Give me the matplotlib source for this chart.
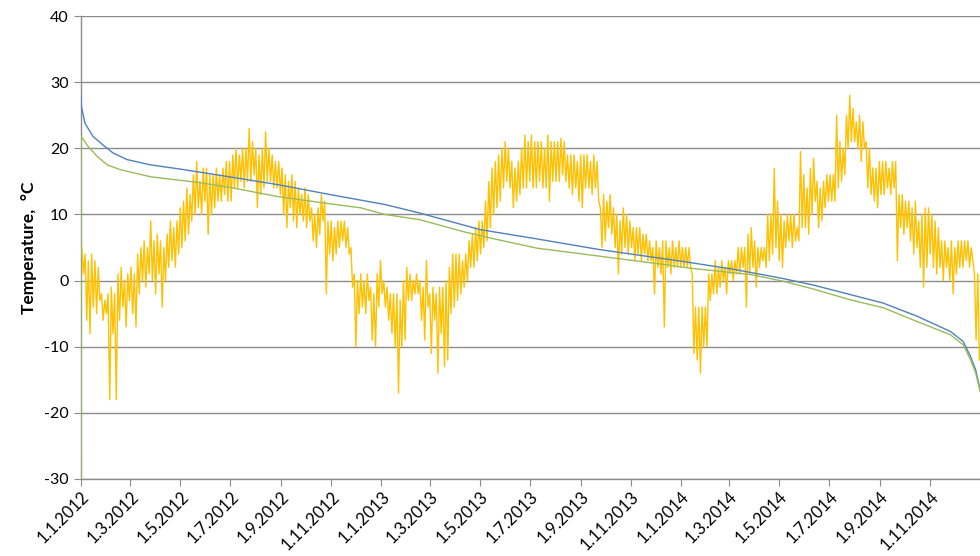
import matplotlib
matplotlib.use("Agg")
import matplotlib.pyplot as plt
import matplotlib.dates as mdates
import matplotlib.ticker as mticker
import numpy as np
import pandas as pd

# Outdoor temperature: high and low of each 4-day block
temp_hi = [
    5, 4, 3, 4, 3, 2, -2, -3, -2, -1,
    -2, 1, 2, 0, 1, 2, 1, 4, 5, 6,
    5, 9, 6, 7, 6, 5, 7, 9, 8, 9,
    11, 12, 14, 13, 16, 18, 15, 17, 17, 16,
    16, 17, 16, 17, 18, 18, 19, 20, 19, 20,
    20, 23, 21, 20, 19, 20, 22.5, 20, 19, 18,
    18, 17, 16, 15, 16, 15, 14, 13, 14, 13,
    11, 10, 11, 13, 12, 9, 9, 8, 9, 9,
    9, 8, 5, 1, 0, 1, 0, 1, -1, -2,
    1, 3, 0, -1, -2, -2, -2, -3, 0, 2,
    1, 0, 1, 0, -1, 3, -2, -1, -2, -1,
    -1, 0, 2, 4, 4, 4, 3, 4, 6, 7,
    8, 9, 9, 12, 15, 17, 18, 19, 20, 21,
    20, 18, 17, 18, 20, 22, 21, 22, 21, 21,
    21, 20, 22, 21, 21, 21, 21.5, 21, 19, 19,
    19, 18, 19, 19, 19, 18, 19, 18, 11, 13,
    12, 13, 11, 10, 9, 11, 10, 9, 8, 8,
    8, 7, 7, 6, 5, 6, 5, 6, 6, 5,
    6, 5, 6, 5, 5, 5, 1, -4, -4, -4,
    -4, 1, 1, 3, 2, 3, 2, 3, 3, 3,
    5, 5, 5, 7, 8, 6, 5, 5, 5, 10,
    10, 17, 12, 10, 9, 10, 10, 10, 8, 19.5,
    16, 14, 17, 18.5, 15, 14, 15, 16, 16, 16,
    25, 21, 20, 25, 28, 26, 24, 25, 24, 21,
    20, 17, 17, 18, 18, 18, 17, 18, 18, 13,
    13, 12, 12, 11, 12, 9, 10, 11, 11, 10,
    9, 8, 6, 6, 5, 6, 5, 6, 6, 6,
    6, 5, 1, 1,
]
temp_lo = [
    1, -6, -8, -4, -5, -3, -6, -5, -18, -8,
    -18, -6, -4, -7, -3, -5, -7, -2, 0, -1,
    1, 0, -2, 1, -4, 0, 2, 3, 2, 4,
    5, 6, 7, 9, 10, 11, 10, 12, 7, 10,
    11, 12, 12, 13, 12, 12, 14, 14, 15, 14,
    15, 15, 16, 11, 13, 14, 15, 15, 14, 14,
    13, 10, 8, 11, 9, 8, 10, 9, 8, 9,
    6, 5, 7, 9, -2, 4, 3, 4, 5, 6,
    5, 4, -1, -10, -5, -4, -5, -3, -9, -10,
    -4, -2, -4, -6, -8, -10, -17, -10, -9, -3,
    -3, -2, -2, -6, -9, -4, -11, -6, -14, -8,
    -13, -12, -5, -4, -3, -2, -1, 0, 2, 2,
    3, 4, 5, 6, 8, 10, 11, 12, 14, 15,
    14, 11, 12, 13, 14, 14, 15, 14, 14, 15,
    14, 14, 12, 15, 15, 15, 16, 15, 14, 13,
    14, 12, 11, 14, 14, 13, 14, 12, 5, 6,
    8, 7, 5, 1, 4, 5, 4, 5, 3, 4,
    3, 4, 3, 3, -2, 2, 1, -7, 2, 1,
    2, 2, 2, 2, 2, 2, -11, -12, -14, -10,
    -10, -3, -2, -2, -1, 0, -2, 1, 0, 1,
    1, 2, -4, 1, 2, -1, 2, 3, 2, 3,
    4, 5, 3, 2, 5, 6, 5, 6, 6, 8,
    8, 7, 10, 12, 8, 9, 11, 12, 12, 12,
    14, 15, 16, 20, 21, 21, 20, 18, 20, 14,
    13, 12, 11, 13, 13, 14, 13, 14, 3, 8,
    7, 8, 6, 4, 5, 2, -1, 2, 4, 2,
    1, 2, 0, 2, 0, -2, 1, 2, 2, 3,
    2, 3, -9, -12,
]

# Duration curves (sorted temperatures): share of period (%) vs value
blue_pct = [0, 0.05, 0.44, 1.33, 2.45, 3.56, 5.1, 7.7, 11.3, 16.9, 21.9, 27.7, 33.8,
            37.7, 44.4, 50.7, 57.6, 66.9, 72.6, 78.1, 81.5, 85.5, 89.2, 93.0, 96.7,
            98.1, 98.9, 99.5, 100]
blue_val = [28, 26.3, 23.8, 21.8, 20.5, 19.3, 18.3, 17.5, 16.8, 15.6, 14.5, 13.0, 11.5,
            10.2, 7.7, 6.3, 4.7, 2.9, 1.7, 0.3, -0.7, -2.1, -3.4, -5.4, -7.7,
            -9.2, -11.4, -13.5, -16.5]

green_pct = [0, 0.01, 0.78, 1.78, 2.9, 4.3, 7.7, 13.2, 16.9, 21.9, 27.7, 31.1, 33.8,
             37.7, 42.5, 46.3, 50.7, 57.6, 65.0, 67.6, 74.5, 78.1, 81.5, 85.5, 89.2,
             93.0, 96.7, 98.1, 98.9, 99.5, 100]
green_val = [-31, 21.8, 20.3, 18.8, 17.5, 16.8, 15.7, 14.8, 14.0, 12.7, 11.6, 11.0, 10.0,
             9.2, 7.4, 6.2, 4.9, 3.7, 2.4, 1.9, 0.9, -0.1, -1.3, -2.9, -4.1,
             -6.2, -8.2, -9.7, -11.9, -14.0, -16.8]

start = pd.Timestamp("2012-01-01")
end = pd.Timestamp("2015-01-01")
span = end - start

# interleave block highs and lows into one hourly-like trace
blocks = pd.date_range(start, periods=len(temp_hi), freq="4D")
t_dates = []
t_vals = []
for b, hi, lo in zip(blocks, temp_hi, temp_lo):
    t_dates += [b + pd.Timedelta(days=1), b + pd.Timedelta(days=3)]
    t_vals += [hi, lo]

blue_dates = [start + span * (p / 100.0) for p in blue_pct]
green_dates = [start + span * (p / 100.0) for p in green_pct]

plt.rcParams["font.family"] = ["Lato", "DejaVu Sans"]
plt.rcParams["axes.unicode_minus"] = False

fig = plt.figure(figsize=(9.8, 5.56), dpi=100)
ax = fig.add_axes([81 / 980, 1 - 479 / 556, 899 / 980, 463 / 556])

ax.plot(t_dates, t_vals, color="#FFC000", lw=1.0, zorder=3)
ax.plot(blue_dates, blue_val, color="#4F81BD", lw=1.0, zorder=4)
ax.plot(green_dates, green_val, color="#9BBB59", lw=1.0, zorder=4)

ax.set_xlim(start, end - pd.Timedelta(hours=6))
ax.set_ylim(-30, 40)
ax.yaxis.set_major_locator(mticker.MultipleLocator(10))
ax.grid(axis="y", color="#8C8C8C", lw=1.0, zorder=0)
ax.set_axisbelow(True)

ax.xaxis.set_major_locator(mdates.MonthLocator(bymonth=[1, 3, 5, 7, 9, 11]))
ax.xaxis.set_major_formatter(mticker.FuncFormatter(
    lambda v, pos: "{d.day}.{d.month}.{d.year}".format(d=mdates.num2date(v))))

ax.tick_params(axis="x", direction="out", length=5, color="#8C8C8C",
               labelsize=12, labelcolor="#000000", pad=2)
ax.tick_params(axis="y", direction="out", length=5, color="#8C8C8C",
               labelsize=11.5, labelcolor="#000000", pad=4)
plt.setp(ax.get_xticklabels(), rotation=45, ha="right", rotation_mode="anchor")

for s in ["top", "right"]:
    ax.spines[s].set_visible(False)
for s in ["left", "bottom"]:
    ax.spines[s].set_color("#8C8C8C")
    ax.spines[s].set_linewidth(1.0)

ax.set_ylabel("Temperature,  °C", fontsize=12.5, fontweight="bold", labelpad=5)

fig.savefig("out.png", dpi=100)
